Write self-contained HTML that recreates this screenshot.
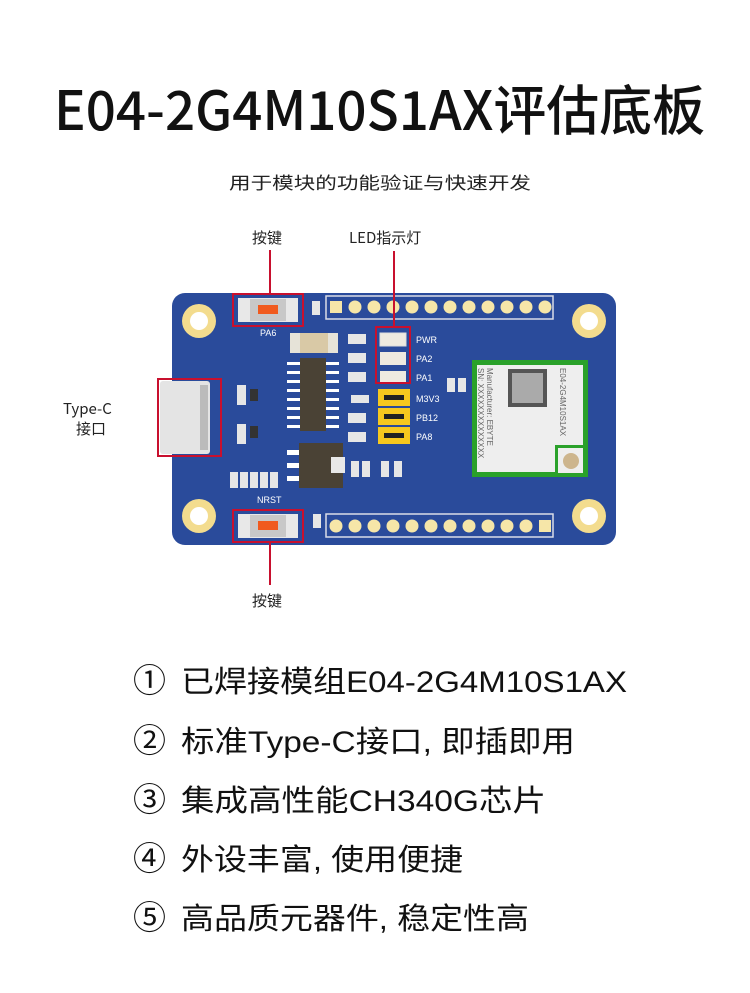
<!DOCTYPE html>
<html><head><meta charset="utf-8"><style>
html,body{margin:0;padding:0;background:#fff}
svg{display:block}
text{font-family:"Liberation Sans","Noto Sans CJK SC",sans-serif}
.cjk{font-family:"Noto Sans CJK SC","Liberation Sans",sans-serif}
</style></head><body>
<svg width="750" height="993" viewBox="0 0 750 993" xmlns="http://www.w3.org/2000/svg">
<rect width="750" height="993" fill="#fff"/>
<text class="cjk" x="54" y="130" font-size="54" font-weight="500" fill="#111" textLength="651" lengthAdjust="spacingAndGlyphs">E04-2G4M10S1AX评估底板</text>
<text class="cjk" x="229" y="189" font-size="17" fill="#222" textLength="302" lengthAdjust="spacingAndGlyphs">用于模块的功能验证与快速开发</text>
<text class="cjk" x="252" y="243" font-size="15" fill="#222">按键</text>
<text class="cjk" x="349" y="243" font-size="15" fill="#222">LED指示灯</text>
<text class="cjk" x="63" y="414" font-size="15" fill="#222">Type-C</text>
<text class="cjk" x="76" y="434" font-size="15" fill="#222">接口</text>
<text class="cjk" x="252" y="606" font-size="15" fill="#222">按键</text>
<rect x="172" y="293" width="444" height="252" rx="13" fill="#2a4b9b"/>
<g fill="#f3dc8e"><circle cx="199" cy="321" r="17"/><circle cx="589" cy="321" r="17"/><circle cx="199" cy="516" r="17"/><circle cx="589" cy="516" r="17"/></g>
<g fill="#fff"><circle cx="199" cy="321" r="9"/><circle cx="589" cy="321" r="9"/><circle cx="199" cy="516" r="9"/><circle cx="589" cy="516" r="9"/></g>
<rect x="326" y="296" width="227" height="23" fill="none" stroke="#d9dde8" stroke-width="1.5"/>
<rect x="326" y="514" width="227" height="23" fill="none" stroke="#d9dde8" stroke-width="1.5"/>
<g fill="#f6e6a8">
<rect x="330" y="301" width="12" height="12"/>
<circle cx="355" cy="307" r="6.5"/><circle cx="374" cy="307" r="6.5"/><circle cx="393" cy="307" r="6.5"/><circle cx="412" cy="307" r="6.5"/><circle cx="431" cy="307" r="6.5"/><circle cx="450" cy="307" r="6.5"/><circle cx="469" cy="307" r="6.5"/><circle cx="488" cy="307" r="6.5"/><circle cx="507" cy="307" r="6.5"/><circle cx="526" cy="307" r="6.5"/><circle cx="545" cy="307" r="6.5"/>
<circle cx="336" cy="526" r="6.5"/><circle cx="355" cy="526" r="6.5"/><circle cx="374" cy="526" r="6.5"/><circle cx="393" cy="526" r="6.5"/><circle cx="412" cy="526" r="6.5"/><circle cx="431" cy="526" r="6.5"/><circle cx="450" cy="526" r="6.5"/><circle cx="469" cy="526" r="6.5"/><circle cx="488" cy="526" r="6.5"/><circle cx="507" cy="526" r="6.5"/><circle cx="526" cy="526" r="6.5"/>
<rect x="539" y="520" width="12" height="12"/>
</g>
<g>
<rect x="238" y="298" width="60" height="24" fill="#e8e8e8"/><rect x="250" y="299" width="36" height="22" fill="#c8c8c8"/><rect x="258" y="305" width="20" height="9" fill="#f05a1e"/>
<rect x="238" y="514" width="60" height="24" fill="#e8e8e8"/><rect x="250" y="515" width="36" height="22" fill="#c8c8c8"/><rect x="258" y="521" width="20" height="9" fill="#f05a1e"/>
</g>
<text x="260" y="336" font-size="9" fill="#fff">PA6</text>
<text x="257" y="503" font-size="9" fill="#fff">NRST</text>
<rect x="290" y="333" width="48" height="20" fill="#e6e3d8"/><rect x="300" y="333" width="28" height="20" fill="#d9c9a6"/>
<g fill="#fff"><rect x="287" y="362" width="14" height="3"/><rect x="287" y="371" width="14" height="3"/><rect x="287" y="380" width="14" height="3"/><rect x="287" y="389" width="14" height="3"/><rect x="287" y="398" width="14" height="3"/><rect x="287" y="407" width="14" height="3"/><rect x="287" y="416" width="14" height="3"/><rect x="287" y="425" width="14" height="3"/>
<rect x="325" y="362" width="14" height="3"/><rect x="325" y="371" width="14" height="3"/><rect x="325" y="380" width="14" height="3"/><rect x="325" y="389" width="14" height="3"/><rect x="325" y="398" width="14" height="3"/><rect x="325" y="407" width="14" height="3"/><rect x="325" y="416" width="14" height="3"/><rect x="325" y="425" width="14" height="3"/></g>
<rect x="300" y="358" width="26" height="73" fill="#4a4235"/>
<rect x="287" y="450" width="12" height="5" fill="#fff"/><rect x="287" y="463" width="12" height="5" fill="#fff"/><rect x="287" y="476" width="12" height="5" fill="#fff"/>
<rect x="299" y="443" width="44" height="45" fill="#4a4235"/><rect x="331" y="457" width="14" height="16" fill="#e8e8e8"/>
<g fill="#e6e6e6">
<rect x="312" y="301" width="8" height="14"/>
<rect x="348" y="334" width="18" height="10"/><rect x="348" y="353" width="18" height="10"/><rect x="348" y="372" width="18" height="10"/><rect x="351" y="395" width="18" height="8"/><rect x="348" y="413" width="18" height="10"/><rect x="348" y="432" width="18" height="10"/>
<rect x="237" y="385" width="9" height="20"/><rect x="237" y="424" width="9" height="20"/>
<rect x="230" y="472" width="8" height="16"/><rect x="240" y="472" width="8" height="16"/><rect x="250" y="472" width="8" height="16"/><rect x="260" y="472" width="8" height="16"/><rect x="270" y="472" width="8" height="16"/>
<rect x="351" y="461" width="8" height="16"/><rect x="362" y="461" width="8" height="16"/><rect x="381" y="461" width="8" height="16"/><rect x="394" y="461" width="8" height="16"/>
<rect x="313" y="514" width="8" height="14"/>
<rect x="447" y="378" width="8" height="14"/><rect x="458" y="378" width="8" height="14"/>
</g>
<g fill="#333"><rect x="250" y="389" width="8" height="12"/><rect x="250" y="426" width="8" height="12"/></g>
<g><rect x="380" y="333" width="26" height="13" fill="#eeeae0" stroke="#ddd"/><rect x="380" y="352" width="26" height="13" fill="#eeeae0"/><rect x="380" y="371" width="26" height="13" fill="#eeeae0"/></g>
<g fill="#f7c81e"><rect x="378" y="389" width="32" height="17"/><rect x="378" y="408" width="32" height="17"/><rect x="378" y="427" width="32" height="17"/></g>
<g fill="#222"><rect x="384" y="395" width="20" height="5"/><rect x="384" y="414" width="20" height="5"/><rect x="384" y="433" width="20" height="5"/></g>
<g font-size="9" fill="#fff"><text x="416" y="343">PWR</text><text x="416" y="362">PA2</text><text x="416" y="381">PA1</text><text x="416" y="402">M3V3</text><text x="416" y="421">PB12</text><text x="416" y="440">PA8</text></g>
<rect x="160" y="381" width="50" height="73" rx="3" fill="#e4e4e4"/><rect x="200" y="385" width="8" height="65" fill="#bbb"/>
<rect x="472" y="360" width="116" height="117" fill="#2aa12a"/>
<rect x="477" y="365" width="106" height="107" fill="#eeeeee"/>
<rect x="555" y="445" width="30" height="30" fill="#2aa12a"/><rect x="558" y="448" width="25" height="25" fill="#eee"/><circle cx="571" cy="461" r="8" fill="#cdb58d"/>
<rect x="508" y="369" width="39" height="38" fill="#555"/><rect x="512" y="373" width="31" height="30" fill="#aaa"/>
<text x="0" y="0" font-size="8" fill="#666" transform="translate(487,368) rotate(90)">Manufacturer: EBYTE</text>
<text x="0" y="0" font-size="8" fill="#666" transform="translate(478,368) rotate(90)">SN: XXXXXXXXXXXXXX</text>
<text x="0" y="0" font-size="8" fill="#666" transform="translate(560,368) rotate(90)">E04-2G4M10S1AX</text>
<g fill="none" stroke="#c8102e" stroke-width="2">
<rect x="233" y="294" width="70" height="32"/><rect x="233" y="510" width="70" height="32"/>
<rect x="158" y="379" width="63" height="77"/><rect x="376" y="327" width="34" height="56"/>
<line x1="270" y1="250" x2="270" y2="294"/><line x1="394" y1="251" x2="394" y2="327"/><line x1="270" y1="542" x2="270" y2="585"/>
</g>
<g class="cjk" font-size="30" fill="#111">
<text x="133" y="692" font-size="33">①</text><text x="181" y="692" textLength="446" lengthAdjust="spacingAndGlyphs">已焊接模组E04-2G4M10S1AX</text>
<text x="133" y="752" font-size="33">②</text><text x="181" y="752" textLength="394" lengthAdjust="spacingAndGlyphs">标准Type-C接口, 即插即用</text>
<text x="133" y="811" font-size="33">③</text><text x="181" y="811" textLength="365" lengthAdjust="spacingAndGlyphs">集成高性能CH340G芯片</text>
<text x="133" y="870" font-size="33">④</text><text x="181" y="870" textLength="282" lengthAdjust="spacingAndGlyphs">外设丰富, 使用便捷</text>
<text x="133" y="929" font-size="33">⑤</text><text x="181" y="929" textLength="348" lengthAdjust="spacingAndGlyphs">高品质元器件, 稳定性高</text>
</g>
</svg>
</body></html>
